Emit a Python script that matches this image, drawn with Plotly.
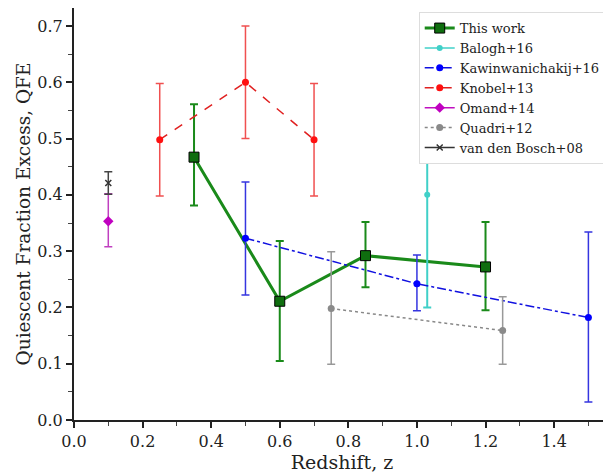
import plotly.graph_objects as go

# This work
tw_z = [0.35, 0.6, 0.85, 1.2]
tw_q = [0.467, 0.211, 0.292, 0.272]
tw_up = [0.094, 0.107, 0.060, 0.080]
tw_lo = [0.086, 0.106, 0.056, 0.077]

# Balogh+16
bal_z = [1.03]
bal_q = [0.40]
bal_err = [0.20]

# Kawinwanichakij+16
kaw_z = [0.5, 1.0, 1.5]
kaw_q = [0.323, 0.242, 0.182]
kaw_up = [0.100, 0.051, 0.152]
kaw_lo = [0.101, 0.048, 0.150]

# Knobel+13
kno_z = [0.25, 0.5, 0.7]
kno_q = [0.498, 0.600, 0.498]
kno_err = [0.100, 0.100, 0.100]

# Omand+14
oma_z = [0.1]
oma_q = [0.353]
oma_up = [0.049]
oma_lo = [0.045]

# Quadri+12
qua_z = [0.75, 1.25]
qua_q = [0.198, 0.159]
qua_up = [0.101, 0.060]
qua_lo = [0.099, 0.060]

# van den Bosch+08
vdb_z = [0.1]
vdb_q = [0.421]
vdb_err = [0.020]

FONT = "DejaVu Serif"


def err(up, lo, color, width=1.5):
    return dict(type="data", symmetric=False, array=up, arrayminus=lo,
                color=color, thickness=width, width=4)


fig = go.Figure()

fig.add_trace(go.Scatter(x=tw_z, y=tw_q, name="This work", mode="lines+markers",
                         line=dict(color="#1a8a1a", width=3),
                         marker=dict(symbol="square", size=10, color="#0f6e0f",
                                     line=dict(color="black", width=1)),
                         error_y=err(tw_up, tw_lo, "#1a8a1a", 2)))
fig.add_trace(go.Scatter(x=bal_z, y=bal_q, name="Balogh+16", mode="lines+markers",
                         line=dict(color="#40d0c8", width=1.5),
                         marker=dict(size=6, color="#40d0c8"),
                         error_y=err(bal_err, bal_err, "#40d0c8", 2)))
fig.add_trace(go.Scatter(x=kaw_z, y=kaw_q, name="Kawinwanichakij+16", mode="lines+markers",
                         line=dict(color="#1010e0", width=1.5, dash="dashdot"),
                         marker=dict(size=7, color="#0000ff"),
                         error_y=err(kaw_up, kaw_lo, "#3535e0")))
fig.add_trace(go.Scatter(x=kno_z, y=kno_q, name="Knobel+13", mode="lines+markers",
                         line=dict(color="#e02020", width=1.5, dash="dash"),
                         marker=dict(size=7, color="#ff1010"),
                         error_y=err(kno_err, kno_err, "#f05050")))
fig.add_trace(go.Scatter(x=oma_z, y=oma_q, name="Omand+14", mode="lines+markers",
                         line=dict(color="#c010c0", width=1.5),
                         marker=dict(symbol="diamond", size=8, color="#c000c0"),
                         error_y=err(oma_up, oma_lo, "#c040c0")))
fig.add_trace(go.Scatter(x=qua_z, y=qua_q, name="Quadri+12", mode="lines+markers",
                         line=dict(color="#888888", width=1.5, dash="dot"),
                         marker=dict(size=7, color="#8a8a8a"),
                         error_y=err(qua_up, qua_lo, "#999999")))
fig.add_trace(go.Scatter(x=vdb_z, y=vdb_q, name="van den Bosch+08", mode="lines+markers",
                         line=dict(color="#333333", width=1.5),
                         marker=dict(symbol="x-thin", size=6, color="#333333",
                                     line=dict(color="#333333", width=1.5)),
                         error_y=err(vdb_err, vdb_err, "#444444")))

# page body adds an 8px offset, so the figure is 8px smaller and margins shifted
fig.update_layout(
    width=603, height=465,
    margin=dict(l=66, r=1, t=0, b=53),
    paper_bgcolor="white", plot_bgcolor="white",
    font=dict(family=FONT, size=16, color="#222222"),
    showlegend=True,
    legend=dict(x=0.992, y=0.99, xanchor="right", yanchor="top",
                bgcolor="white", bordercolor="#dddddd", borderwidth=1,
                font=dict(family=FONT, size=13), tracegroupgap=0,
                itemwidth=30),
)
fig.update_xaxes(range=[0, 1.563], dtick=0.2, tickformat=".1f", automargin=False,
                 ticks="outside", ticklen=6, tickwidth=2, tickcolor="#222222",
                 minor=dict(dtick=0.1, ticks="outside", ticklen=4, tickwidth=1, tickcolor="#444444"),
                 showgrid=False, zeroline=False,
                 showline=True, linecolor="#222222", linewidth=2, mirror=True,
                 title=dict(text="Redshift, z", font=dict(family=FONT, size=19), standoff=0))
fig.update_yaxes(range=[0, 0.732], dtick=0.1, tickformat=".1f", automargin=False,
                 ticks="outside", ticklen=6, tickwidth=2, tickcolor="#222222",
                 minor=dict(dtick=0.05, ticks="outside", ticklen=4, tickwidth=1, tickcolor="#444444"),
                 showgrid=False, zeroline=False,
                 showline=True, linecolor="#222222", linewidth=2, mirror=True,
                 title=dict(text="Quiescent Fraction Excess, QFE", font=dict(family=FONT, size=18.5), standoff=2))

fig.write_html("out.html")
